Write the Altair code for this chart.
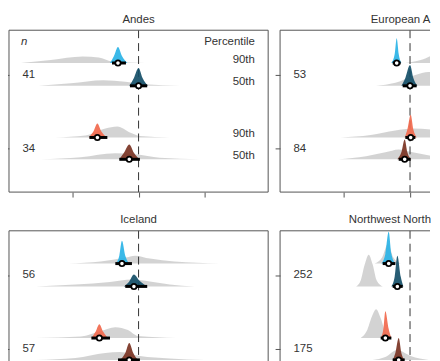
import altair as alt
import pandas as pd

PANELS = ["Andes", "European Alps", "Iceland", "Northwest North America"]
RIGHT_PANELS = ["European Alps", "Northwest North America"]
N_LABELS = {
    "Andes": ["41", "34"],
    "European Alps": ["53", "84"],
    "Iceland": ["56", "57"],
    "Northwest North America": ["252", "175"],
}
ROW_NAMES = ["90th", "50th", "90th", "50th"]
ROW_Y = [13.0, 10.7, 5.5, 3.3]
GROUP_Y = [11.85, 4.4]
ROW_COLORS = ["#2ab3e6", "#154f68", "#f1694d", "#7a3323"]

GREY_X = {
    "Andes": [
        [-1.77, -1.32, -0.84, -0.60, -0.40, -0.16, 0.10],
        [-1.50, -1.02, -0.53, -0.20, 0.10, 0.62],
        [-1.25, -0.80, -0.50, -0.32, -0.13, 0.02, 0.47],
        [-1.47, -0.87, -0.35, -0.05, 0.32, 0.92],
    ],
    "European Alps": [
        [-0.07, 0.16, 0.46, 0.75, 1.2, 1.65],
        [-0.51, -0.22, 0.08, 0.28, 0.53, 0.90, 1.2],
        [-1.04, -0.59, -0.22, 0.04, 0.31, 0.68, 1.2],
        [-1.07, -0.66, -0.37, -0.17, 0.04, 0.31, 0.75],
    ],
    "Iceland": [
        [-1.05, -0.57, -0.20, -0.05, 0.17, 0.54, 1.22],
        [-1.54, -0.95, -0.43, -0.10, 0.17, 0.47, 0.84],
        [-1.54, -0.87, -0.57, -0.35, -0.16, -0.01, 0.57],
        [-1.54, -0.95, -0.50, -0.28, 0.02, 0.47, 0.99],
    ],
    "Northwest North America": [
        [-0.53, -0.42, -0.33, -0.25, -0.14],
        [-0.81, -0.74, -0.68, -0.62, -0.56, -0.50, -0.41],
        [-0.74, -0.65, -0.57, -0.51, -0.44, -0.37, -0.29],
        [-0.56, -0.37, -0.19, 0.01, 0.28],
    ],
}
GREY_H = {
    "Andes": [
        [0, 0.3, 0.65, 0.55, 0.15, 0.04, 0],
        [0, 0.25, 0.55, 0.4, 0.15, 0],
        [0, 0.2, 0.9, 1.1, 0.5, 0.15, 0],
        [0, 0.2, 0.6, 0.5, 0.15, 0],
    ],
    "European Alps": [
        [0, 0.3, 1.1, 1.3, 0.6, 0],
        [0, 0.3, 1.1, 1.4, 0.9, 0.2, 0],
        [0, 0.25, 0.7, 0.9, 0.8, 0.4, 0],
        [0, 0.3, 0.7, 1.0, 0.7, 0.35, 0],
    ],
    "Iceland": [
        [0, 0.2, 0.6, 0.8, 0.5, 0.2, 0],
        [0, 0.2, 0.45, 0.7, 0.5, 0.2, 0],
        [0, 0.15, 0.7, 1.1, 0.8, 0.2, 0],
        [0, 0.2, 0.7, 0.8, 0.4, 0.15, 0],
    ],
    "Northwest North America": [
        [0, 0.6, 2.0, 0.6, 0],
        [0, 0.6, 2.2, 3.2, 2.2, 0.6, 0],
        [0, 0.7, 2.2, 2.9, 2.0, 0.6, 0],
        [0, 0.3, 1.0, 0.4, 0],
    ],
}
COL_X = {
    "Andes": [
        [-0.43, -0.37, -0.31, -0.25, -0.17],
        [-0.14, -0.07, 0.0, 0.06, 0.14],
        [-0.75, -0.68, -0.62, -0.56, -0.47],
        [-0.29, -0.22, -0.14, -0.07, 0.01],
    ],
    "European Alps": [
        [-0.28, -0.23, -0.20, -0.17, -0.13],
        [-0.13, -0.07, 0.0, 0.05, 0.11],
        [-0.08, -0.04, 0.01, 0.05, 0.10],
        [-0.19, -0.13, -0.08, -0.04, 0.02],
    ],
    "Iceland": [
        [-0.34, -0.29, -0.25, -0.20, -0.14],
        [-0.22, -0.14, -0.07, 0.01, 0.13],
        [-0.71, -0.65, -0.59, -0.53, -0.46],
        [-0.28, -0.20, -0.14, -0.08, -0.01],
    ],
    "Northwest North America": [
        [-0.43, -0.37, -0.32, -0.28, -0.22],
        [-0.28, -0.23, -0.19, -0.14, -0.10],
        [-0.44, -0.40, -0.37, -0.32, -0.28],
        [-0.26, -0.22, -0.17, -0.13, -0.08],
    ],
}
COL_H = {
    "Andes": [
        [0, 0.7, 1.6, 0.7, 0],
        [0, 0.8, 1.8, 0.8, 0],
        [0, 0.6, 1.4, 0.6, 0],
        [0, 0.65, 1.5, 0.65, 0],
    ],
    "European Alps": [
        [0, 0.9, 2.5, 0.9, 0],
        [0, 0.8, 2.1, 0.8, 0],
        [0, 0.8, 2.3, 0.8, 0],
        [0, 0.7, 2.0, 0.7, 0],
    ],
    "Iceland": [
        [0, 0.8, 2.3, 0.8, 0],
        [0, 0.5, 1.2, 0.6, 0],
        [0, 0.6, 1.4, 0.6, 0],
        [0, 0.7, 1.7, 0.7, 0],
    ],
    "Northwest North America": [
        [0, 1.0, 3.2, 1.0, 0],
        [0, 1.0, 3.1, 1.0, 0],
        [0, 0.9, 2.7, 0.9, 0],
        [0, 0.7, 2.2, 0.7, 0],
    ],
}
INT_LO = {
    "Andes": [-0.40, -0.13, -0.74, -0.29],
    "European Alps": [-0.26, -0.11, -0.07, -0.17],
    "Iceland": [-0.35, -0.20, -0.71, -0.31],
    "Northwest North America": [-0.41, -0.26, -0.44, -0.26],
}
INT_HI = {
    "Andes": [-0.19, 0.13, -0.47, 0.02],
    "European Alps": [-0.14, 0.10, 0.08, 0.01],
    "Iceland": [-0.10, 0.13, -0.43, 0.02],
    "Northwest North America": [-0.22, -0.11, -0.28, -0.08],
}
EST_X = {
    "Andes": [-0.31, 0.0, -0.62, -0.14],
    "European Alps": [-0.20, 0.0, 0.01, -0.08],
    "Iceland": [-0.25, -0.07, -0.59, -0.14],
    "Northwest North America": [-0.32, -0.19, -0.37, -0.17],
}

# panel titles (the right-hand panels run past the edge of the picture)
TITLE_X = {"Andes": 0.0, "European Alps": -0.59, "Iceland": 0.0,
           "Northwest North America": -0.92}
TITLE_Y = 17.05
TITLE_LIMIT = {"European Alps": 61.5, "Northwest North America": 84}

LEGEND_TEXT = ["Percentile", "90th", "50th", "90th", "50th"]
LEGEND_Y = [15.1, 13.35, 11.05, 5.85, 3.65]
LEGEND_X = 1.75
N_TEXT_X = -1.72
N_TEXT_Y = 15.1

FONT = "Liberation Sans"
FS = 11.5
X_DOMAIN = [-1.95, 1.95]
X_DOMAIN_RIGHT = [-1.95, 0.30]
Y_DOMAIN = [0, 16.3]
FRAME = "#555"


def density_frame(p, xs, hs):
    recs = []
    for r in range(4):
        for i, (x, h) in enumerate(zip(xs[p][r], hs[p][r])):
            recs.append({"row": r, "x": x, "base": ROW_Y[r], "top": ROW_Y[r] + h, "k": i})
    return pd.DataFrame(recs)


def panel(p):
    right = p in RIGHT_PANELS
    xdom = X_DOMAIN_RIGHT if right else X_DOMAIN
    xs = alt.Scale(domain=xdom, nice=False, zero=False)
    ys = alt.Scale(domain=Y_DOMAIN, nice=False, zero=False)
    n1, n2 = N_LABELS[p]
    tick_vals = [-1, 0] if right else [-1, 0, 1]
    xaxis = alt.Axis(values=tick_vals, labels=False, title=None, domain=False,
                     grid=False, tickSize=5, tickColor=FRAME)
    yaxis = alt.Axis(values=GROUP_Y, labelExpr=f"datum.value > 8 ? '{n1}' : '{n2}'",
                     title=None, domain=False, grid=False, tickSize=5, tickColor=FRAME,
                     labelAlign="left", labelPadding=-18, labelFontSize=FS,
                     labelColor="#333", labelFont=FONT, labelBaseline="middle")

    grey = alt.Chart(density_frame(p, GREY_X, GREY_H)).mark_area(
        color="#c4c4c4", opacity=0.75, interpolate="monotone", clip=True
    ).encode(
        x=alt.X("x:Q", scale=xs, axis=xaxis),
        y=alt.Y("top:Q", scale=ys, axis=yaxis),
        y2="base:Q",
        detail="row:N",
    )
    col = alt.Chart(density_frame(p, COL_X, COL_H)).mark_area(
        opacity=0.92, interpolate="monotone", clip=True
    ).encode(
        x=alt.X("x:Q", title=None),
        y=alt.Y("top:Q", title=None),
        y2="base:Q",
        color=alt.Color("row:N", scale=alt.Scale(domain=[0, 1, 2, 3], range=ROW_COLORS), legend=None),
    )
    est = pd.DataFrame({
        "row": [0, 1, 2, 3],
        "y": ROW_Y,
        "lo": INT_LO[p],
        "hi": INT_HI[p],
        "est": EST_X[p],
    })
    vline = alt.Chart(pd.DataFrame({"v": [0]})).mark_rule(
        color="#333", strokeWidth=1, strokeDash=[8, 5]
    ).encode(x=alt.X("v:Q", title=None))
    interval = alt.Chart(est).mark_rule(color="black", strokeWidth=3).encode(
        x=alt.X("lo:Q", title=None), x2="hi:Q", y=alt.Y("y:Q", title=None)
    )
    points = alt.Chart(est).mark_point(
        shape="circle", filled=True, fill="white", stroke="black",
        strokeWidth=1.8, size=28, opacity=1
    ).encode(x=alt.X("est:Q", title=None), y=alt.Y("y:Q", title=None))

    title_df = pd.DataFrame({"t": [p], "x": [TITLE_X[p]], "y": [TITLE_Y]})
    if right:
        title_mark = alt.Chart(title_df).mark_text(
            align="left", baseline="alphabetic", fontSize=FS, font=FONT, color="#333",
            limit=TITLE_LIMIT[p], ellipsis="\u200b")
    else:
        title_mark = alt.Chart(title_df).mark_text(
            align="center", baseline="alphabetic", fontSize=FS, font=FONT, color="#333")
    title_mark = title_mark.encode(x=alt.X("x:Q", title=None), y=alt.Y("y:Q", title=None), text="t:N")

    # frame: the right-hand panels run past the picture edge, so no right edge there
    vedges = [xdom[0]] if right else list(xdom)
    frame_v = alt.Chart(pd.DataFrame({"ev": vedges})).mark_rule(
        color=FRAME, strokeWidth=1).encode(x=alt.X("ev:Q", title=None))
    frame_h = alt.Chart(pd.DataFrame({"eh": Y_DOMAIN})).mark_rule(
        color=FRAME, strokeWidth=1).encode(y=alt.Y("eh:Q", title=None))

    layers = [grey, vline, col, interval, points, title_mark, frame_v, frame_h]
    if p == "Andes":
        leg = pd.DataFrame({"t": LEGEND_TEXT, "x": [LEGEND_X] * 5, "y": LEGEND_Y})
        layers.append(
            alt.Chart(leg).mark_text(align="right", baseline="middle", fontSize=FS,
                                     font=FONT, color="#333").encode(
                x=alt.X("x:Q", title=None), y=alt.Y("y:Q", title=None), text="t:N")
        )
        layers.append(
            alt.Chart(pd.DataFrame({"t": ["n"], "x": [N_TEXT_X], "y": [N_TEXT_Y]})).mark_text(
                align="center", baseline="middle", fontSize=FS, font=FONT,
                fontStyle="italic", color="#333").encode(
                x=alt.X("x:Q", title=None), y=alt.Y("y:Q", title=None), text="t:N")
        )
    return alt.layer(*layers).properties(width=151 if right else 261, height=163)


top = alt.hconcat(panel(PANELS[0]), panel(PANELS[1]), spacing=5)
bottom = alt.hconcat(panel(PANELS[2]), panel(PANELS[3]), spacing=5)
chart = alt.vconcat(top, bottom, spacing=16).properties(
    padding={"left": -5, "top": 4, "right": 0, "bottom": 0}
).configure(
    font=FONT,
    view=alt.ViewConfig(stroke="transparent", strokeWidth=0),
)

chart.save("out.html", embed_options={"renderer": "svg", "actions": False})
